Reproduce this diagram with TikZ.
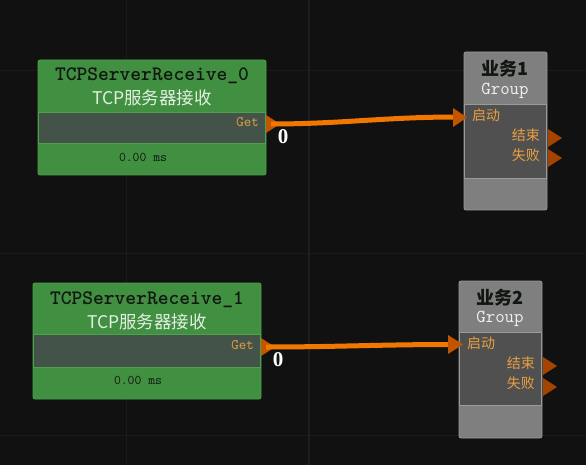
\documentclass[tikz,border=0pt]{standalone}
\usepackage{fontspec}
\newfontfamily\cjk{Noto Sans CJK SC}
\newfontfamily\numfont{Liberation Serif}
\definecolor{bgc}{HTML}{111111}
\definecolor{gridc}{HTML}{1B1B1B}
\definecolor{gridb}{HTML}{1F1F1F}
\definecolor{greenfill}{HTML}{418F41}
\definecolor{greenedge}{HTML}{4CA34C}
\definecolor{greenband}{HTML}{44534A}
\definecolor{grayfill}{HTML}{7F7F7F}
\definecolor{grayedge}{HTML}{9A9A9A}
\definecolor{grayband}{HTML}{505050}
\definecolor{portin}{HTML}{C45500}
\definecolor{portout}{HTML}{A44400}
\definecolor{wirec}{HTML}{F07800}
\definecolor{labelc}{HTML}{E8A040}
\definecolor{darktext}{HTML}{101610}
\definecolor{subc}{HTML}{E2F0E2}
\begin{document}
\begin{tikzpicture}[x=1pt,y=-1pt,
  gridline/.style={draw=gridc,line width=1pt},
  gbox/.style={rectangle,rounded corners=2pt,fill=greenfill,draw=greenedge,line width=0.8pt,inner sep=0pt},
  gband/.style={rectangle,fill=greenband,draw=greenedge,line width=0.8pt,inner sep=0pt},
  grbox/.style={rectangle,rounded corners=2pt,fill=grayfill,draw=grayedge,line width=0.8pt,inner sep=0pt},
  grband/.style={rectangle,fill=grayband,draw=grayedge,line width=0.8pt,inner sep=0pt},
  titletext/.style={inner sep=0pt,font=\ttfamily\bfseries\fontsize{20.5}{20}\selectfont,text=darktext},
  subtext/.style={inner sep=0pt,font=\cjk\fontsize{17.5}{18}\selectfont,text=subc},
  gettext/.style={inner sep=0pt,font=\ttfamily\fontsize{14.5}{14}\selectfont,text=labelc},
  mstext/.style={inner sep=0pt,font=\ttfamily\fontsize{13.3}{13}\selectfont,text=darktext},
  grtitle/.style={inner sep=0pt,font=\cjk\bfseries\fontsize{18}{18}\selectfont,text=darktext},
  grsub/.style={inner sep=0pt,font=\ttfamily\fontsize{18.3}{18}\selectfont,text=white!90!gray},
  porttext/.style={inner sep=0pt,font=\cjk\fontsize{14}{14}\selectfont,text=labelc},
  wire/.style={draw=wirec,line width=5pt},
  wirelabel/.style={inner sep=0pt,font=\numfont\bfseries\fontsize{21}{21}\selectfont,text=white},
  inport/.style={fill=portin},
  outport/.style={fill=portout}
]
\fill[bgc] (0,0) rectangle (586,465);
\useasboundingbox (0,0) rectangle (586,465);
% grid
\draw[gridline] (126,0) -- (126,465);
\draw[gridline,draw=gridb,line width=1.6pt] (309,0) -- (309,465);
\draw[gridline] (0,71) -- (586,71);
\draw[gridline] (0,253) -- (586,253);
\draw[gridline] (0,435) -- (586,435);

% ---------- receiver 0 ----------
\node[gbox,minimum width=228pt,minimum height=115pt] (r0) at (152,117.5) {};
\node[gband,minimum width=227pt,minimum height=31pt] (r0band) at (152,127.5) {};
\node[titletext] (r0title) at (152,76) {TCPServerReceive\_0};
\node[subtext] (r0sub) at (152,98) {TCP服务器接收};
\node[gettext,anchor=east] (r0get) at (259,122) {Get};
\node[mstext] (r0ms) at (143,157) {0.00 ms};
\fill[inport] (266,115) -- (280,124) -- (266,133) -- cycle;
\coordinate (r0out) at (271,124);

% ---------- group 1 ----------
\node[grbox,minimum width=83pt,minimum height=158pt] (g1) at (505.5,131) {};
\node[grband,minimum width=82pt,minimum height=74pt] (g1band) at (505.5,141) {};
\node[grtitle] (g1title) at (505,69) {业务1};
\node[grsub] (g1sub) at (505,91) {Group};
\node[porttext,anchor=west] (g1start) at (472,115) {启动};
\node[porttext,anchor=east] (g1end) at (540,135) {结束};
\node[porttext,anchor=east] (g1fail) at (540,155) {失败};
\fill[outport] (548,129) -- (562,138) -- (548,147) -- cycle;
\fill[outport] (548,149) -- (562,158) -- (548,167) -- cycle;
\coordinate (g1in) at (456,117);

\draw[wire] (r0out) .. controls +(70,0) and +(-70,0) .. (g1in);
\fill[inport] (453,108) -- (467,117.5) -- (453,127) -- cycle;
\node[wirelabel] (w0) at (283,137) {0};

% ---------- receiver 1 ----------
\node[gbox,minimum width=228pt,minimum height=116pt] (r1) at (147,341) {};
\node[gband,minimum width=227pt,minimum height=33pt] (r1band) at (147,350.5) {};
\node[titletext] (r1title) at (147,300) {TCPServerReceive\_1};
\node[subtext] (r1sub) at (147,322) {TCP服务器接收};
\node[gettext,anchor=east] (r1get) at (254,345) {Get};
\node[mstext] (r1ms) at (138,380) {0.00 ms};
\fill[inport] (261,338) -- (275,347) -- (261,356) -- cycle;
\coordinate (r1out) at (266,347);

% ---------- group 2 ----------
\node[grbox,minimum width=83pt,minimum height=157pt] (g2) at (500.5,359.5) {};
\node[grband,minimum width=82pt,minimum height=73pt] (g2band) at (500.5,368.5) {};
\node[grtitle] (g2title) at (500,298) {业务2};
\node[grsub] (g2sub) at (500,319) {Group};
\node[porttext,anchor=west] (g2start) at (467,343) {启动};
\node[porttext,anchor=east] (g2end) at (535,363) {结束};
\node[porttext,anchor=east] (g2fail) at (535,383) {失败};
\fill[outport] (543,357) -- (557,366) -- (543,375) -- cycle;
\fill[outport] (543,378) -- (557,387) -- (543,396) -- cycle;
\coordinate (g2in) at (451,344.5);

\draw[wire] (r1out) .. controls +(70,0) and +(-70,0) .. (g2in);
\fill[inport] (448,335) -- (463,344.5) -- (448,354) -- cycle;
\node[wirelabel] (w1) at (278,360) {0};
\end{tikzpicture}
\end{document}
